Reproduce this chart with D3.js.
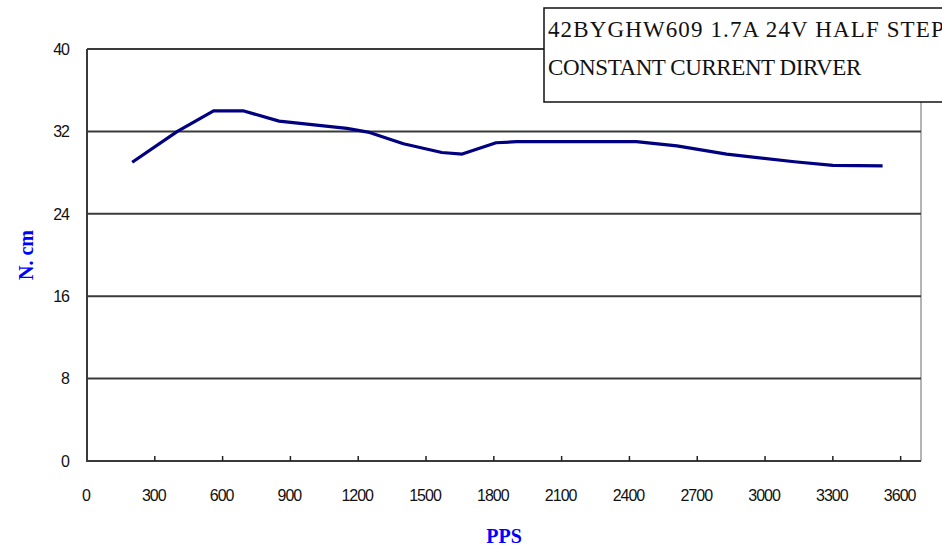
<!DOCTYPE html>
<html>
<head>
<meta charset="utf-8">
<script src="https://cdn.jsdelivr.net/npm/d3@7"></script>
<style>
  html, body { margin: 0; padding: 0; background: #fff; }
  svg { display: block; }
</style>
</head>
<body>
<svg id="chart" width="942" height="547"></svg>
<script>
// ---- data ----
const pps    = [200, 400, 560, 690, 850, 1150, 1250, 1400, 1570, 1660, 1810, 1900, 2430, 2610, 2830, 3130, 3300, 3520];
const torque = [29.0, 32.0, 34.0, 34.0, 33.0, 32.3, 31.9, 30.8, 29.95, 29.8, 30.9, 31.0, 31.0, 30.6, 29.8, 29.05, 28.7, 28.65];
const xTicks = [0, 300, 600, 900, 1200, 1500, 1800, 2100, 2400, 2700, 3000, 3300, 3600];
const yTicks = [0, 8, 16, 24, 32, 40];
const titleLines = ["42BYGHW609 1.7A 24V HALF STEP", "CONSTANT CURRENT DIRVER"];
const xLabel = "PPS";
const yLabel = "N. cm";

const svg = d3.select("#chart");
const x = d3.scaleLinear().domain([0, 3690]).range([87, 921]);
const y = d3.scaleLinear().domain([0, 40]).range([461, 49]);

// right border of plot area
svg.append("line")
  .attr("x1", 921).attr("x2", 921).attr("y1", 49).attr("y2", 461)
  .attr("stroke", "#b4b4b4").attr("stroke-width", 2);

// gridlines
svg.append("g").selectAll("line").data(yTicks.filter(d => d > 0)).join("line")
  .attr("x1", 87).attr("x2", 921)
  .attr("y1", d => y(d)).attr("y2", d => y(d))
  .attr("stroke", "#3a3a3a").attr("stroke-width", 2);

// y axis labels
svg.append("g").selectAll("text").data(yTicks).join("text")
  .attr("x", 69).attr("y", d => y(d))
  .attr("dy", "0.36em")
  .attr("text-anchor", "end")
  .attr("font-family", "'Liberation Sans', Arial, sans-serif")
  .attr("font-size", 16)
  .attr("letter-spacing", "-1")
  .attr("fill", "#111")
  .text(d => d);

// axes lines
svg.append("line").attr("x1", 87).attr("x2", 87).attr("y1", 49).attr("y2", 461)
  .attr("stroke", "#3a3a3a").attr("stroke-width", 2);
svg.append("line").attr("x1", 86).attr("x2", 921).attr("y1", 461).attr("y2", 461)
  .attr("stroke", "#3a3a3a").attr("stroke-width", 2);

// x ticks (inside)
svg.append("g").selectAll("line").data(xTicks.filter(d => d > 0)).join("line")
  .attr("x1", d => x(d)).attr("x2", d => x(d))
  .attr("y1", 461).attr("y2", 456)
  .attr("stroke", "#222").attr("stroke-width", 1.5);

// x labels
svg.append("g").selectAll("text").data(xTicks).join("text")
  .attr("x", d => x(d) - 1).attr("y", 501)
  .attr("text-anchor", "middle")
  .attr("font-family", "'Liberation Sans', Arial, sans-serif")
  .attr("font-size", 16)
  .attr("letter-spacing", "-1")
  .attr("fill", "#111")
  .text(d => d);

// data line
const pts = pps.map((p, i) => [p, torque[i]]);
svg.append("path")
  .datum(pts)
  .attr("fill", "none")
  .attr("stroke", "#000080")
  .attr("stroke-width", 3.2)
  .attr("stroke-linejoin", "round")
  .attr("d", d3.line().x(d => x(d[0])).y(d => y(d[1])));

// axis titles
svg.append("text")
  .attr("x", 504).attr("y", 543)
  .attr("text-anchor", "middle")
  .attr("font-family", "'Liberation Serif', 'DejaVu Serif', serif")
  .attr("font-weight", "bold")
  .attr("font-size", 20)
  .attr("fill", "#0000ff")
  .text(xLabel);

svg.append("text")
  .attr("transform", "translate(33,255) rotate(-90)")
  .attr("text-anchor", "middle")
  .attr("font-family", "'Liberation Serif', 'DejaVu Serif', serif")
  .attr("font-weight", "bold")
  .attr("font-size", 20)
  .attr("fill", "#0000ff")
  .text(yLabel);

// title box
svg.append("rect")
  .attr("x", 544).attr("y", 8).attr("width", 420).attr("height", 94)
  .attr("fill", "#fff").attr("stroke", "#111").attr("stroke-width", 1.5);
svg.append("g").selectAll("text").data(titleLines).join("text")
  .attr("x", 548).attr("y", (d, i) => 37 + i * 38)
  .attr("font-family", "'Liberation Serif', 'Times New Roman', serif")
  .attr("font-size", 23)
  .attr("textLength", d => d.length * 13.75 - 3)
  .attr("lengthAdjust", "spacing")
  .attr("fill", "#111")
  .text(d => d);
</script>
</body>
</html>
